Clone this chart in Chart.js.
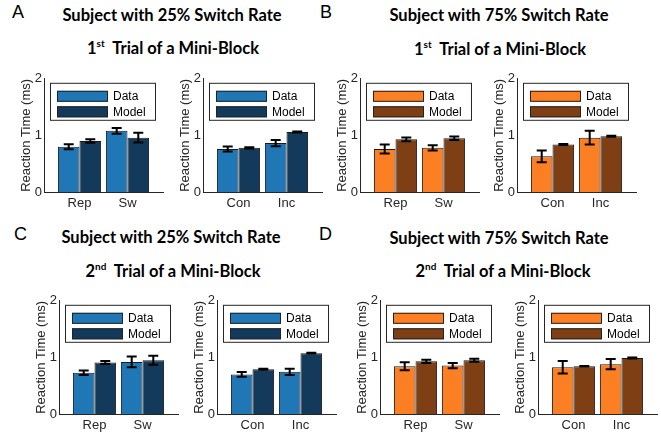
<!DOCTYPE html>
<html>
<head>
<meta charset="utf-8">
<script src="https://cdn.jsdelivr.net/npm/chart.js@4.4.1/dist/chart.umd.min.js"></script>
<style>
    body { margin: 0; background: #fff; }
    #page { position: relative; width: 661px; height: 436px; overflow: hidden; background: #fff; }
    .box { position: absolute; width: 150px; height: 145px; }
    .title { position: absolute; transform: translateX(-50%); white-space: pre; font-family: Lato, "Open Sans", sans-serif; font-weight: bold; font-size: 16.5px; line-height: 20px; color: #000; }
    .title sup { font-size: 10px; line-height: 0; vertical-align: 7px; }
    .letter { position: absolute; font-family: "Liberation Sans", Arial, sans-serif; font-size: 18px; line-height: 20px; color: #000; }
</style>
</head>
<body>
<div id="page">
    <div class="letter" style="left:12px; top:2px;">A</div>
    <div class="letter" style="left:320px; top:2px;">B</div>
    <div class="letter" style="left:14px; top:224px;">C</div>
    <div class="letter" style="left:319px; top:224px;">D</div>

    <div class="title" style="left:172px; top:5px;">Subject with 25% Switch Rate</div>
    <div class="title" style="left:173px; top:38px;">1<sup>st</sup>  Trial of a Mini-Block</div>
    <div class="title" style="left:499px; top:5px;">Subject with 75% Switch Rate</div>
    <div class="title" style="left:500px; top:39px;">1<sup>st</sup>  Trial of a Mini-Block</div>
    <div class="title" style="left:171px; top:227px;">Subject with 25% Switch Rate</div>
    <div class="title" style="left:173px; top:261px;">2<sup>nd</sup>  Trial of a Mini-Block</div>
    <div class="title" style="left:499px; top:228px;">Subject with 75% Switch Rate</div>
    <div class="title" style="left:503px; top:261px;">2<sup>nd</sup>  Trial of a Mini-Block</div>

    <div class="box" style="left:17px; top:69px;"><canvas id="aSw"></canvas></div>
    <div class="box" style="left:176px; top:69px;"><canvas id="aCong"></canvas></div>
    <div class="box" style="left:333px; top:69px;"><canvas id="bSw"></canvas></div>
    <div class="box" style="left:490px; top:69px;"><canvas id="bCong"></canvas></div>
    <div class="box" style="left:32px; top:291px;"><canvas id="cSw"></canvas></div>
    <div class="box" style="left:190px; top:291px;"><canvas id="cCong"></canvas></div>
    <div class="box" style="left:353px; top:291px;"><canvas id="dSw"></canvas></div>
    <div class="box" style="left:511px; top:291px;"><canvas id="dCong"></canvas></div>
</div>
<script>
const switchCats = ['Rep', 'Sw'];
const congCats = ['Con', 'Inc'];
const seriesNames = ['Data', 'Model'];
const yTicks = [0, 1, 2];

// A: 25% switch rate, 1st trial
const aSwData = [0.80, 1.08];
const aSwDataErr = [0.045, 0.05];
const aSwModel = [0.90, 0.96];
const aSwModelErr = [0.03, 0.085];
const aCongData = [0.76, 0.865];
const aCongDataErr = [0.045, 0.055];
const aCongModel = [0.78, 1.06];
const aCongModelErr = [0.01, 0.01];

// B: 75% switch rate, 1st trial
const bSwData = [0.76, 0.78];
const bSwDataErr = [0.08, 0.045];
const bSwModel = [0.93, 0.95];
const bSwModelErr = [0.035, 0.03];
const bCongData = [0.63, 0.96];
const bCongDataErr = [0.105, 0.12];
const bCongModel = [0.84, 0.985];
const bCongModelErr = [0.01, 0.01];

// C: 25% switch rate, 2nd trial
const cSwData = [0.73, 0.92];
const cSwDataErr = [0.04, 0.095];
const cSwModel = [0.91, 0.95];
const cSwModelErr = [0.025, 0.08];
const cCongData = [0.70, 0.745];
const cCongDataErr = [0.04, 0.055];
const cCongModel = [0.79, 1.075];
const cCongModelErr = [0.01, 0.005];

// D: 75% switch rate, 2nd trial
const dSwData = [0.845, 0.855];
const dSwDataErr = [0.07, 0.045];
const dSwModel = [0.93, 0.95];
const dSwModelErr = [0.03, 0.025];
const dCongData = [0.825, 0.88];
const dCongDataErr = [0.11, 0.09];
const dCongModel = [0.845, 0.99];
const dCongModelErr = [0.005, 0.01];

const blues = ['#2077b5', '#133a5a'];
const oranges = ['#fd7f24', '#7f3f14'];
const axisColor = '#262626';

// error bars, drawn over each bar
const errorBars = {
    id: 'errorBars',
    afterDatasetsDraw(chart) {
        const ctx = chart.ctx;
        const y = chart.scales.y;
        ctx.save();
        ctx.strokeStyle = '#000';
        ctx.lineWidth = 2;
        chart.data.datasets.forEach((ds, i) => {
            chart.getDatasetMeta(i).data.forEach((bar, j) => {
                const v = ds.data[j].y;
                const e = ds.errors[j];
                const top = y.getPixelForValue(v + e);
                const bot = y.getPixelForValue(v - e);
                ctx.beginPath();
                ctx.moveTo(bar.x, top);
                ctx.lineTo(bar.x, bot);
                ctx.moveTo(bar.x - 5, top);
                ctx.lineTo(bar.x + 5, top);
                ctx.moveTo(bar.x - 5, bot);
                ctx.lineTo(bar.x + 5, bot);
                ctx.stroke();
            });
        });
        ctx.restore();
    }
};

// boxed legend inside the axes, top left
const insideLegend = {
    id: 'insideLegend',
    afterDraw(chart) {
        const ctx = chart.ctx;
        const area = chart.chartArea;
        const x0 = area.left + 6;
        const y0 = area.top + 4;
        ctx.save();
        ctx.fillStyle = '#fff';
        ctx.fillRect(x0, y0, 106, 38);
        ctx.strokeStyle = axisColor;
        ctx.lineWidth = 1;
        ctx.strokeRect(x0 + 0.5, y0 + 0.5, 105, 37);
        ctx.font = '12px "Liberation Sans", Arial, sans-serif';
        ctx.textBaseline = 'middle';
        chart.data.datasets.forEach((ds, i) => {
            const sy = y0 + 8 + i * 15.5;
            ctx.fillStyle = ds.backgroundColor;
            ctx.fillRect(x0 + 7, sy, 51, 11);
            ctx.strokeStyle = '#222';
            ctx.strokeRect(x0 + 7.5, sy + 0.5, 50, 10);
            ctx.fillStyle = '#000';
            ctx.fillText(ds.label, x0 + 63, sy + 6);
        });
        ctx.restore();
    }
};

function makeChart(id, cats, data, dataErr, model, modelErr, colors) {
    const points = vals => vals.map((v, i) => ({ x: i + 1, y: v }));
    return new Chart(document.getElementById(id), {
        type: 'bar',
        data: {
            datasets: [
                { label: seriesNames[0], data: points(data), errors: dataErr, backgroundColor: colors[0] },
                { label: seriesNames[1], data: points(model), errors: modelErr, backgroundColor: colors[1] }
            ]
        },
        options: {
            responsive: true,
            maintainAspectRatio: false,
            animation: false,
            layout: { padding: { top: 8, right: 4, left: 0, bottom: 0 } },
            datasets: { bar: { borderColor: '#1a1a1a', borderWidth: 1, categoryPercentage: 0.9, barPercentage: 1.0 } },
            plugins: { legend: { display: false }, tooltip: { enabled: false } },
            scales: {
                x: {
                    type: 'linear',
                    offset: false,
                    bounds: 'data',
                    min: 0.26,
                    max: 2.74,
                    afterBuildTicks: s => { s.ticks = cats.map((c, i) => ({ value: i + 1 })); },
                    afterFit: s => { s.height = 22; },
                    grid: { display: false, drawTicks: false },
                    border: { display: true, color: axisColor, width: 1 },
                    ticks: {
                        padding: 4,
                        color: axisColor,
                        font: { family: '"Liberation Sans", Arial, sans-serif', size: 13 },
                        callback: v => cats[v - 1]
                    }
                },
                y: {
                    min: 0,
                    max: 2,
                    afterBuildTicks: s => { s.ticks = yTicks.map(v => ({ value: v })); },
                    afterFit: s => { s.width = 27; },
                    grid: { display: false, drawTicks: false },
                    border: { display: true, color: axisColor, width: 1 },
                    ticks: {
                        padding: 2,
                        color: axisColor,
                        font: { family: '"Liberation Sans", Arial, sans-serif', size: 13 }
                    },
                    title: {
                        display: true,
                        text: 'Reaction Time (ms)',
                        color: axisColor,
                        padding: { top: 2, bottom: 0 },
                        font: { family: '"Liberation Sans", Arial, sans-serif', size: 13, weight: 'normal' }
                    }
                }
            }
        },
        plugins: [errorBars, insideLegend]
    });
}

makeChart('aSw', switchCats, aSwData, aSwDataErr, aSwModel, aSwModelErr, blues);
makeChart('aCong', congCats, aCongData, aCongDataErr, aCongModel, aCongModelErr, blues);
makeChart('bSw', switchCats, bSwData, bSwDataErr, bSwModel, bSwModelErr, oranges);
makeChart('bCong', congCats, bCongData, bCongDataErr, bCongModel, bCongModelErr, oranges);
makeChart('cSw', switchCats, cSwData, cSwDataErr, cSwModel, cSwModelErr, blues);
makeChart('cCong', congCats, cCongData, cCongDataErr, cCongModel, cCongModelErr, blues);
makeChart('dSw', switchCats, dSwData, dSwDataErr, dSwModel, dSwModelErr, oranges);
makeChart('dCong', congCats, dCongData, dCongDataErr, dCongModel, dCongModelErr, oranges);
</script>
</body>
</html>
